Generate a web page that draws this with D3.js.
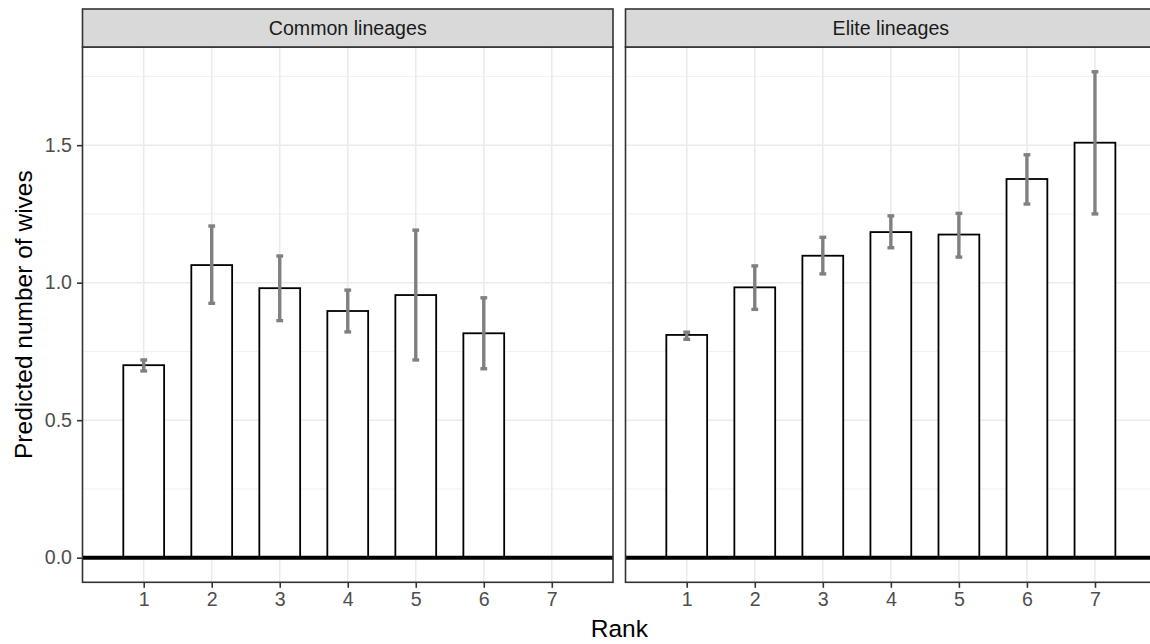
<!DOCTYPE html>
<html>
<head>
<meta charset="utf-8">
<script src="https://cdnjs.cloudflare.com/ajax/libs/d3/7.8.5/d3.min.js"></script>
<style>
  body { margin: 0; background: #fff; }
  text { font-family: "Liberation Sans", Arial, sans-serif; }
</style>
</head>
<body>
<script>
// values
const ranks = [1, 2, 3, 4, 5, 6, 7];
const panels = ["Common lineages", "Elite lineages"];
const commonMean = [0.700, 1.064, 0.980, 0.897, 0.955, 0.816];
const commonLow  = [0.679, 0.925, 0.862, 0.821, 0.719, 0.687];
const commonHigh = [0.719, 1.206, 1.097, 0.973, 1.191, 0.945];
const eliteMean = [0.810, 0.983, 1.098, 1.184, 1.175, 1.377, 1.509];
const eliteLow  = [0.794, 0.903, 1.032, 1.127, 1.093, 1.286, 1.250];
const eliteHigh = [0.820, 1.061, 1.165, 1.243, 1.252, 1.465, 1.767];
const yTicks = [0, 0.5, 1.0, 1.5];
const yMinor = [0.25, 0.75, 1.25, 1.75];

const W = 1150, H = 644;
const panelTop = 47, panelBottom = 582.3, stripTop = 9;
const panelX = [[82.5, 613], [625.5, 1156.2]];

const svg = d3.select("body").append("svg")
    .attr("width", W).attr("height", H);
svg.append("rect").attr("width", W).attr("height", H).attr("fill", "#fff");

const y = d3.scaleLinear().domain([-0.0895, 1.857]).range([panelBottom, panelTop]);

function rows(mean, low, high) {
  return mean.map((m, i) => ({rank: ranks[i], mean: m, low: low[i], high: high[i]}));
}
const panelData = [rows(commonMean, commonLow, commonHigh), rows(eliteMean, eliteLow, eliteHigh)];

panels.forEach(function(name, p) {
  const x = d3.scaleLinear().domain([0.1, 7.9]).range(panelX[p]);
  const x0 = panelX[p][0], x1 = panelX[p][1];
  const g = svg.append("g");

  // grid
  g.selectAll(".minor").data(yMinor).enter().append("line")
    .attr("x1", x0).attr("x2", x1)
    .attr("y1", d => y(d)).attr("y2", d => y(d))
    .attr("stroke", "#EBEBEB").attr("stroke-width", 0.8);
  g.selectAll(".major").data(yTicks).enter().append("line")
    .attr("x1", x0).attr("x2", x1)
    .attr("y1", d => y(d)).attr("y2", d => y(d))
    .attr("stroke", "#EBEBEB").attr("stroke-width", 1.6);
  g.selectAll(".vmajor").data(ranks).enter().append("line")
    .attr("x1", d => x(d)).attr("x2", d => x(d))
    .attr("y1", panelTop).attr("y2", panelBottom)
    .attr("stroke", "#EBEBEB").attr("stroke-width", 1.6);

  const data = panelData[p];
  const bw = x(0.6) - x(0);

  // bars
  g.selectAll(".bar").data(data).enter().append("rect")
    .attr("x", d => x(d.rank) - bw / 2)
    .attr("width", bw)
    .attr("y", d => y(d.mean))
    .attr("height", d => y(0) - y(d.mean))
    .attr("fill", "#fff").attr("stroke", "#000").attr("stroke-width", 1.8);

  // zero line
  g.append("line")
    .attr("x1", x0).attr("x2", x1)
    .attr("y1", y(0)).attr("y2", y(0))
    .attr("stroke", "#000").attr("stroke-width", 4);

  // error bars
  const cw = x(0.1) - x(0);
  const eb = g.selectAll(".err").data(data).enter().append("g");
  eb.append("line")
    .attr("x1", d => x(d.rank)).attr("x2", d => x(d.rank))
    .attr("y1", d => y(d.low)).attr("y2", d => y(d.high))
    .attr("stroke", "#808080").attr("stroke-width", 3.4);
  eb.append("line")
    .attr("x1", d => x(d.rank) - cw / 2).attr("x2", d => x(d.rank) + cw / 2)
    .attr("y1", d => y(d.low)).attr("y2", d => y(d.low))
    .attr("stroke", "#808080").attr("stroke-width", 3.4);
  eb.append("line")
    .attr("x1", d => x(d.rank) - cw / 2).attr("x2", d => x(d.rank) + cw / 2)
    .attr("y1", d => y(d.high)).attr("y2", d => y(d.high))
    .attr("stroke", "#808080").attr("stroke-width", 3.4);

  // panel border
  g.append("rect")
    .attr("x", x0).attr("y", panelTop)
    .attr("width", x1 - x0).attr("height", panelBottom - panelTop)
    .attr("fill", "none").attr("stroke", "#333333").attr("stroke-width", 1.6);

  // strip
  g.append("rect")
    .attr("x", x0).attr("y", stripTop)
    .attr("width", x1 - x0).attr("height", panelTop - stripTop)
    .attr("fill", "#D9D9D9").attr("stroke", "#333333").attr("stroke-width", 1.6);
  g.append("text")
    .attr("x", (x0 + x1) / 2).attr("y", 28)
    .attr("dy", "0.35em")
    .attr("text-anchor", "middle")
    .attr("font-size", 19.6).attr("fill", "#1A1A1A")
    .text(name);

  // x axis
  const xAxis = d3.axisBottom(x).tickValues(ranks).tickSize(5.5).tickPadding(4).tickFormat(d3.format("d"));
  const ax = g.append("g").attr("transform", "translate(0," + panelBottom + ")").call(xAxis);
  ax.select(".domain").remove();
  ax.selectAll(".tick line").attr("stroke", "#333333").attr("stroke-width", 1.6);
  ax.selectAll(".tick text").attr("fill", "#4D4D4D").attr("font-size", 19.6)
    .attr("font-family", "Liberation Sans, Arial, sans-serif");

  // y axis on the first panel only
  if (p === 0) {
    const yAxis = d3.axisLeft(y).tickValues(yTicks).tickSize(5.5).tickPadding(5).tickFormat(d3.format(".1f"));
    const ay = g.append("g").attr("transform", "translate(" + x0 + ",0)").call(yAxis);
    ay.select(".domain").remove();
    ay.selectAll(".tick line").attr("stroke", "#333333").attr("stroke-width", 1.6);
    ay.selectAll(".tick text").attr("fill", "#4D4D4D").attr("font-size", 19.6)
      .attr("font-family", "Liberation Sans, Arial, sans-serif");
  }
});

// axis titles
svg.append("text")
  .attr("x", (panelX[0][0] + panelX[1][1]) / 2).attr("y", 636.7)
  .attr("text-anchor", "middle").attr("font-size", 24.5).attr("fill", "#000")
  .text("Rank");
svg.append("text")
  .attr("transform", "translate(32," + (panelTop + panelBottom) / 2 + ") rotate(-90)")
  .attr("text-anchor", "middle").attr("font-size", 24.5).attr("fill", "#000")
  .text("Predicted number of wives");
</script>
</body>
</html>
